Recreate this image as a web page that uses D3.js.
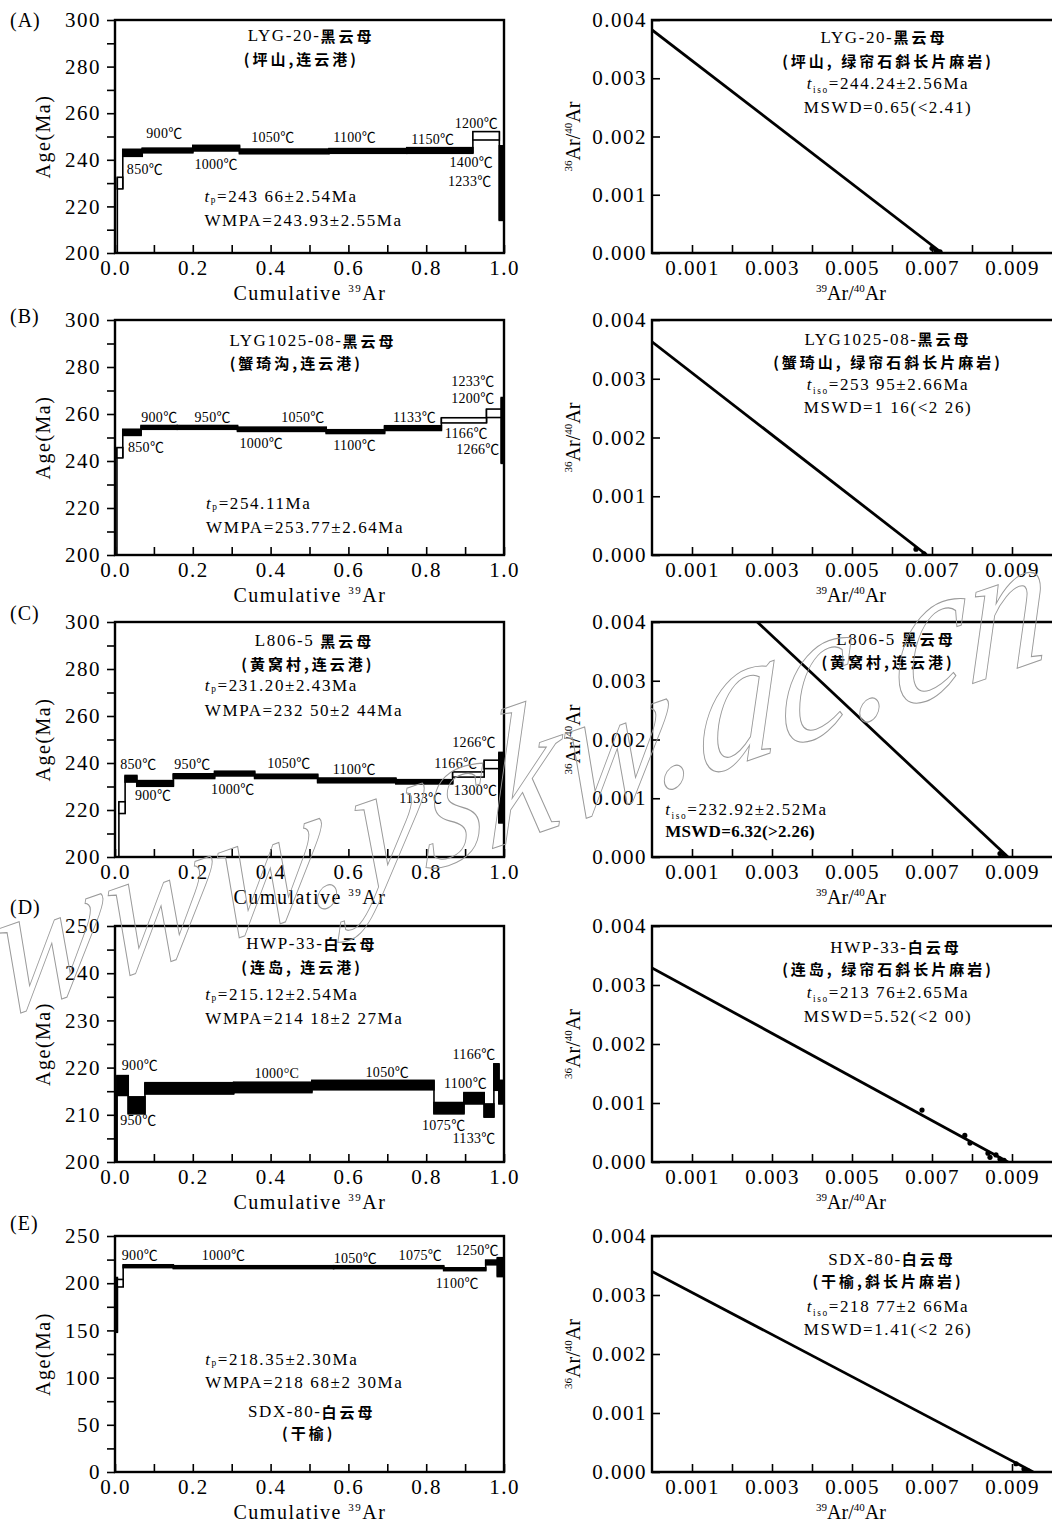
<!DOCTYPE html>
<html lang="zh">
<head>
<meta charset="UTF-8">
<title>Ar-Ar age spectra and isochrons</title>
<script src="https://cdn.jsdelivr.net/npm/d3@7"></script>
<style>
  body { margin: 0; background: #fff; }
  svg { display: block; }
</style>
</head>
<body>
<svg id="chart" width="1052" height="1528"></svg>
<script>
// ---------- data ----------
const panelIds = ["A", "B", "C", "D", "E"];

// age spectra: [cumulative 39Ar from, to, age (Ma), error (Ma), used in plateau]
const stepsA = [
  [0, 0.006, 190, 6, false], [0.006, 0.02, 230, 2.5, false], [0.02, 0.07, 243, 1.5, true],
  [0.07, 0.2, 244, 1.0, true], [0.2, 0.32, 245, 1.2, true], [0.32, 0.55, 243.6, 1.0, true],
  [0.55, 0.75, 243.8, 1.0, true], [0.75, 0.92, 244, 1.2, true], [0.92, 0.988, 250.3, 1.8, false],
  [0.988, 1.0, 230, 16, true]
];
const stepsB = [
  [0, 0.005, 190, 5, false], [0.005, 0.02, 243.5, 2.2, false], [0.02, 0.067, 252.2, 1.3, true],
  [0.067, 0.16, 254.3, 0.8, true], [0.16, 0.315, 254.3, 0.8, true], [0.315, 0.543, 253.5, 0.9, true],
  [0.543, 0.693, 252.5, 0.8, true], [0.693, 0.839, 254, 1.0, true], [0.839, 0.955, 257.3, 1.1, false],
  [0.955, 0.993, 260.3, 1.8, false], [0.993, 1.0, 253, 14, true]
];
const stepsC = [
  [0, 0.01, 190, 5, false], [0.01, 0.026, 221, 2.5, false], [0.026, 0.056, 233.3, 1.4, true],
  [0.056, 0.15, 231.3, 1.2, true], [0.15, 0.256, 234.4, 1.0, true], [0.256, 0.359, 235.5, 1.0, true],
  [0.359, 0.521, 234.3, 0.9, true], [0.521, 0.722, 232.6, 1.0, true], [0.722, 0.868, 232.0, 0.9, true],
  [0.868, 0.949, 235.1, 1.1, false], [0.949, 0.987, 239.4, 1.8, false], [0.987, 1.0, 229.5, 15, true]
];
const stepsD = [
  [0, 0.005, 207.5, 7.5, true], [0.005, 0.034, 216.2, 2.1, true], [0.034, 0.077, 212, 1.8, true],
  [0.077, 0.305, 215.6, 1.2, true], [0.305, 0.506, 215.8, 1.1, true], [0.506, 0.82, 216.3, 1.0, true],
  [0.82, 0.897, 211.4, 1.2, true], [0.897, 0.949, 213.5, 1.2, true], [0.949, 0.974, 210.9, 1.4, true],
  [0.974, 0.987, 218, 2.8, true], [0.987, 1.0, 214.8, 2.5, true]
];
const stepsE = [
  [0, 0.006, 177, 29, true], [0.006, 0.021, 200, 4, false], [0.021, 0.15, 218, 1.5, true],
  [0.15, 0.562, 217, 1.5, true], [0.562, 0.845, 217, 1.5, true], [0.845, 0.953, 214.8, 1.5, true],
  [0.953, 0.983, 222, 2.5, true], [0.983, 1.0, 217, 10, true]
];

// heating-step labels: [text, cumulative 39Ar, age]
const tempsA = [["900℃", 0.127, 251.4], ["850℃", 0.077, 235.7], ["1000℃", 0.26, 237.9], ["1050℃", 0.406, 249.6],
  ["1100℃", 0.616, 249.6], ["1150℃", 0.817, 248.6], ["1200℃", 0.929, 255.7], ["1400℃", 0.916, 239], ["1233℃", 0.912, 230.7]];
const tempsB = [["900℃", 0.114, 258.3], ["950℃", 0.251, 258.3], ["1050℃", 0.483, 258.3], ["1133℃", 0.77, 258.6],
  ["1233℃", 0.92, 273.9], ["1200℃", 0.92, 266.7], ["850℃", 0.08, 245.7], ["1000℃", 0.376, 247.4],
  ["1100℃", 0.616, 246.7], ["1166℃", 0.903, 251.9], ["1266℃", 0.933, 245]];
const tempsC = [["850℃", 0.06, 239.3], ["950℃", 0.199, 239.3], ["1050℃", 0.447, 239.7], ["1100℃", 0.615, 237.2],
  ["1266℃", 0.923, 248.9], ["1166℃", 0.876, 240], ["900℃", 0.098, 226.2], ["1000℃", 0.303, 228.7],
  ["1133℃", 0.786, 224.8], ["1300℃", 0.927, 228.4]];
const tempsD = [["900℃", 0.064, 220.4], ["1000°C", 0.416, 218.8], ["1050℃", 0.7, 218.9], ["1166℃", 0.923, 222.7],
  ["1100℃", 0.901, 216.7], ["950℃", 0.06, 208.7], ["1075℃", 0.845, 207.7], ["1133℃", 0.923, 204.9]];
const tempsE = [["900℃", 0.064, 228.9], ["1000℃", 0.279, 228.9], ["1050℃", 0.618, 226], ["1075℃", 0.785, 229.6],
  ["1250℃", 0.931, 234.2], ["1100℃", 0.88, 199.6]];

// spectrum notes: [text, cumulative 39Ar, age, anchor]
const notesA = [["LYG-20-黑云母", 0.504, 293.6, "middle"], ["(坪山,连云港)", 0.479, 283.6, "middle"],
  ["t_p=243 66±2.54Ma", 0.23, 224.3, "start"], ["WMPA=243.93±2.55Ma", 0.23, 214.3, "start"]];
const notesB = [["LYG1025-08-黑云母", 0.509, 291.7, "middle"], ["(蟹琦沟,连云港)", 0.466, 282.1, "middle"],
  ["t_p=254.11Ma", 0.234, 222.1, "start"], ["WMPA=253.77±2.64Ma", 0.234, 212.1, "start"]];
const notesC = [["L806-5 黑云母", 0.513, 292.2, "middle"], ["(黄窝村,连云港)", 0.496, 282.6, "middle"],
  ["t_p=231.20±2.43Ma", 0.231, 273, "start"], ["WMPA=232 50±2 44Ma", 0.231, 262.4, "start"]];
const notesD = [["HWP-33-白云母", 0.506, 246.3, "middle"], ["(连岛, 连云港)", 0.481, 241.5, "middle"],
  ["t_p=215.12±2.54Ma", 0.232, 235.6, "start"], ["WMPA=214 18±2 27Ma", 0.232, 230.6, "start"]];
const notesE = [["t_p=218.35±2.30Ma", 0.232, 119.7, "start"], ["WMPA=218 68±2 30Ma", 0.232, 95, "start"],
  ["SDX-80-白云母", 0.506, 65.1, "middle"], ["(干榆)", 0.498, 42.3, "middle"]];

// age axis labels
const ageTicksA = [200, 220, 240, 260, 280, 300];
const ageTicksB = [200, 220, 240, 260, 280, 300];
const ageTicksC = [200, 220, 240, 260, 280, 300];
const ageTicksD = [200, 210, 220, 230, 240, 250];
const ageTicksE = [0, 50, 100, 150, 200, 250];
const cumTicks = [0, 0.2, 0.4, 0.6, 0.8, 1.0];

// isochrons: [36Ar/40Ar intercept, 39Ar/40Ar intercept]
const isoA = [0.00383, 0.00725];
const isoB = [0.00363, 0.00687];
const isoC = [0.00568, 0.0089];
const isoD = [0.00329, 0.0089];
const isoE = [0.0034, 0.00953];
const isoPtsA = [[0.0070, 0.00008], [0.0071, 0.00004], [0.0072, 0.00002]];
const isoPtsB = [[0.0066, 0.0001], [0.0068, 0.00002]];
const isoPtsC = [[0.0087, 0.00006], [0.0088, 0.00003]];
const isoPtsD = [[0.00675, 0.00088], [0.00782, 0.00045], [0.00795, 0.00032], [0.0084, 0.00015],
  [0.00845, 0.00008], [0.0086, 0.00012], [0.0087, 0.00005], [0.0088, 0.00003]];
const isoPtsE = [[0.0091, 0.00014], [0.0093, 0.00005], [0.0094, 0.00002]];
const isoXTicks = [0.001, 0.003, 0.005, 0.007, 0.009];
const isoYTicks = [0, 0.001, 0.002, 0.003, 0.004];

// isochron notes: [text, 39Ar/40Ar, 36Ar/40Ar (baseline), anchor]
const isoNotesA = [["LYG-20-黑云母", 0.0058, 0.00361, "middle"], ["(坪山, 绿帘石斜长片麻岩)", 0.0059, 0.0032, "middle"],
  ["t_iso=244.24±2.56Ma", 0.0059, 0.00281, "middle"], ["MSWD=0.65(<2.41)", 0.0059, 0.00241, "middle"]];
const isoNotesB = [["LYG1025-08-黑云母", 0.0059, 0.00357, "middle"], ["(蟹琦山, 绿帘石斜长片麻岩)", 0.0059, 0.00318, "middle"],
  ["t_iso=253 95±2.66Ma", 0.0059, 0.00281, "middle"], ["MSWD=1 16(<2 26)", 0.0059, 0.00242, "middle"]];
const isoNotesC = [["L806-5 黑云母", 0.0061, 0.00361, "middle"], ["(黄窝村,连云港)", 0.0059, 0.00322, "middle"],
  ["t_iso=232.92±2.52Ma", 0.00033, 0.00071, "start"], ["MSWD=6.32(>2.26)", 0.00033, 0.00034, "start"]];
const isoNotesD = [["HWP-33-白云母", 0.0061, 0.00354, "middle"], ["(连岛, 绿帘石斜长片麻岩)", 0.0059, 0.00317, "middle"],
  ["t_iso=213 76±2.65Ma", 0.0059, 0.00278, "middle"], ["MSWD=5.52(<2 00)", 0.0059, 0.00237, "middle"]];
const isoNotesE = [["SDX-80-白云母", 0.006, 0.00351, "middle"], ["(干榆,斜长片麻岩)", 0.0059, 0.00314, "middle"],
  ["t_iso=218 77±2 66Ma", 0.0059, 0.00271, "middle"], ["MSWD=1.41(<2 26)", 0.0059, 0.00232, "middle"]];

// ---------- layout ----------
const W = 1052, H = 1528;
const serif = "'Liberation Serif','Times New Roman','Noto Sans CJK SC',serif";
const cjk = "'Noto Sans CJK SC','Noto Sans',sans-serif";
const rowTop = [20, 320, 622, 926, 1236];
const rowBottom = [253, 555, 857, 1162, 1472];
const letterY = [27, 323, 620, 914, 1230];
const leftX = [115, 504];
const rightX = [652, 1052];

const panels = [
  { steps: stepsA, temps: tempsA, notes: notesA, ages: ageTicksA, iso: isoA, pts: isoPtsA, isoNotes: isoNotesA },
  { steps: stepsB, temps: tempsB, notes: notesB, ages: ageTicksB, iso: isoB, pts: isoPtsB, isoNotes: isoNotesB },
  { steps: stepsC, temps: tempsC, notes: notesC, ages: ageTicksC, iso: isoC, pts: isoPtsC, isoNotes: isoNotesC },
  { steps: stepsD, temps: tempsD, notes: notesD, ages: ageTicksD, iso: isoD, pts: isoPtsD, isoNotes: isoNotesD },
  { steps: stepsE, temps: tempsE, notes: notesE, ages: ageTicksE, iso: isoE, pts: isoPtsE, isoNotes: isoNotesE }
];

const svg = d3.select("#chart");
svg.append("rect").attr("width", W).attr("height", H).attr("fill", "#fff");
const defs = svg.append("defs");

// text with t_p / t_iso prefix and bold CJK runs
function richText(sel, str) {
  let rest = str, lift = 0;
  const m = str.match(/^t_(p|iso)(.*)$/);
  if (m) {
    sel.append("tspan").attr("font-style", "italic").text("t");
    sel.append("tspan").attr("font-size", "0.55em").attr("dy", 4).text(m[1]);
    rest = m[2];
    lift = -4;
  }
  const allCjk = /^\(.*[\u4e00-\u9fff]/.test(rest);
  const parts = allCjk ? [rest] : rest.split(/([\u4e00-\u9fff]+)/).filter(s => s.length);
  parts.forEach((s, i) => {
    const t = sel.append("tspan").text(s);
    if (i === 0 && lift) t.attr("dy", lift);
    if (allCjk || /[\u4e00-\u9fff]/.test(s)) {
      t.attr("font-family", cjk).attr("font-weight", 700).attr("letter-spacing", 3).attr("font-size", 15);
    }
  });
}

// text with superscript parts: [[text, isSup], ...]
function supText(sel, parts) {
  let up = false;
  parts.forEach(([s, sup]) => {
    const t = sel.append("tspan").text(s);
    if (sup && !up) { t.attr("dy", -8).attr("font-size", 11); up = true; }
    else if (sup) { t.attr("font-size", 11); }
    else if (up) { t.attr("dy", 8); up = false; }
  });
}

function styleAxis(g) {
  g.select(".domain").remove();
  g.selectAll(".tick line").attr("stroke", "#000").attr("stroke-width", 1.6);
  g.selectAll(".tick text").attr("fill", "#000").attr("font-family", serif)
    .attr("font-size", 21).attr("letter-spacing", 1.5);
}

panels.forEach((p, i) => {
  const top = rowTop[i], bottom = rowBottom[i];

  // ----- age spectrum -----
  const x = d3.scaleLinear().domain([0, 1]).range(leftX);
  const y = d3.scaleLinear().domain(d3.extent(p.ages)).range([bottom, top]);
  const gl = svg.append("g");
  defs.append("clipPath").attr("id", "clipL" + i).append("rect")
    .attr("x", leftX[0]).attr("y", top).attr("width", leftX[1] - leftX[0]).attr("height", bottom - top);

  const plot = gl.append("g").attr("clip-path", `url(#clipL${i})`);
  const st = p.steps.map(d => ({ x0: d[0], x1: d[1], lo: d[2] - d[3], hi: d[2] + d[3], inc: d[4] }));
  d3.pairs(st).forEach(([a, b]) => {
    plot.append("line")
      .attr("x1", x(a.x1)).attr("x2", x(a.x1))
      .attr("y1", y(Math.min(a.lo, b.lo))).attr("y2", y(Math.max(a.hi, b.hi)))
      .attr("stroke", "#000").attr("stroke-width", 1.6);
  });
  plot.selectAll("rect.step").data(st).join("rect")
    .attr("class", "step")
    .attr("x", d => x(d.x0)).attr("width", d => x(d.x1) - x(d.x0))
    .attr("y", d => y(d.hi)).attr("height", d => y(d.lo) - y(d.hi))
    .attr("fill", d => d.inc ? "#000" : "#fff")
    .attr("stroke", "#000").attr("stroke-width", 1.6);

  const step = p.ages[1] - p.ages[0];
  const yAll = d3.range(p.ages[0], p.ages[p.ages.length - 1] + step / 4, step / 2);
  gl.append("g").attr("transform", `translate(${leftX[0]},0)`)
    .call(d3.axisLeft(y).tickValues(yAll).tickSize(8).tickPadding(6)
      .tickFormat(v => p.ages.includes(v) ? v : ""))
    .call(styleAxis);
  gl.append("g").attr("transform", `translate(0,${bottom})`)
    .call(d3.axisBottom(x).tickValues(d3.range(0, 1.0001, 0.1)).tickSize(-8).tickPadding(7)
      .tickFormat(v => cumTicks.some(c => Math.abs(c - v) < 1e-6) ? d3.format(".1f")(v) : ""))
    .call(styleAxis);

  gl.append("rect").attr("x", leftX[0]).attr("y", top)
    .attr("width", leftX[1] - leftX[0]).attr("height", bottom - top)
    .attr("fill", "none").attr("stroke", "#000").attr("stroke-width", 2.4);

  gl.selectAll("text.temp").data(p.temps).join("text")
    .attr("class", "temp")
    .attr("x", d => x(d[1])).attr("y", d => y(d[2]))
    .attr("text-anchor", "middle").attr("dominant-baseline", "central")
    .attr("font-family", serif).attr("font-size", 14).attr("letter-spacing", 0.3)
    .text(d => d[0]);

  p.notes.forEach(n => {
    const t = gl.append("text").attr("x", x(n[1])).attr("y", y(n[2]))
      .attr("text-anchor", n[3]).attr("dominant-baseline", "central")
      .attr("font-family", serif).attr("font-size", 17).attr("letter-spacing", 1.6);
    richText(t, n[0]);
  });

  svg.append("text").attr("x", 10).attr("y", letterY[i])
    .attr("font-family", serif).attr("font-size", 20).attr("letter-spacing", 1)
    .text(`(${panelIds[i]})`);

  svg.append("text")
    .attr("transform", `translate(50,${(top + bottom) / 2}) rotate(-90)`)
    .attr("text-anchor", "middle")
    .attr("font-family", serif).attr("font-size", 20).attr("letter-spacing", 1.5)
    .text("Age(Ma)");

  const xl = svg.append("text").attr("x", 310).attr("y", bottom + 47)
    .attr("text-anchor", "middle").attr("font-family", serif).attr("font-size", 20).attr("letter-spacing", 1.5);
  supText(xl, [["Cumulative ", false], ["39", true], ["Ar", false]]);

  // ----- isochron -----
  const xi = d3.scaleLinear().domain([0, 0.01]).range(rightX);
  const yi = d3.scaleLinear().domain([0, 0.004]).range([bottom, top]);
  const gr = svg.append("g");
  defs.append("clipPath").attr("id", "clipR" + i).append("rect")
    .attr("x", rightX[0]).attr("y", top).attr("width", rightX[1] - rightX[0] + 20).attr("height", bottom - top);
  const plotR = gr.append("g").attr("clip-path", `url(#clipR${i})`);

  plotR.append("line")
    .attr("x1", xi(0)).attr("y1", yi(p.iso[0]))
    .attr("x2", xi(p.iso[1])).attr("y2", yi(0))
    .attr("stroke", "#000").attr("stroke-width", 2.8);
  plotR.selectAll("circle").data(p.pts).join("circle")
    .attr("cx", d => xi(d[0])).attr("cy", d => yi(d[1])).attr("r", 2.6).attr("fill", "#000");

  gr.append("g").attr("transform", `translate(${rightX[0]},0)`)
    .call(d3.axisLeft(yi).tickValues(isoYTicks).tickSize(-8).tickPadding(5).tickFormat(d3.format(".3f")))
    .call(styleAxis);
  gr.append("g").attr("transform", `translate(0,${bottom})`)
    .call(d3.axisBottom(xi).tickValues(d3.range(0.001, 0.00951, 0.001)).tickSize(-8).tickPadding(7)
      .tickFormat(v => isoXTicks.some(c => Math.abs(c - v) < 1e-9) ? d3.format(".3f")(v) : ""))
    .call(styleAxis);

  gr.append("path")
    .attr("d", `M${W + 10},${top}H${rightX[0]}V${bottom}H${W + 10}`)
    .attr("fill", "none").attr("stroke", "#000").attr("stroke-width", 2.4);

  p.isoNotes.forEach(n => {
    const t = gr.append("text").attr("x", xi(n[1])).attr("y", yi(n[2]))
      .attr("text-anchor", n[3])
      .attr("font-family", serif).attr("font-size", 17).attr("letter-spacing", 1.6);
    if (n[0].startsWith("MSWD=6")) t.attr("font-weight", 700).attr("letter-spacing", 0.3);
    richText(t, n[0]);
  });

  const yl = svg.append("text")
    .attr("transform", `translate(580,${(top + bottom) / 2}) rotate(-90)`)
    .attr("text-anchor", "middle").attr("font-family", serif).attr("font-size", 20);
  supText(yl, [["36", true], ["Ar/", false], ["40", true], ["Ar", false]]);

  const xr = svg.append("text").attr("x", 851).attr("y", bottom + 47)
    .attr("text-anchor", "middle").attr("font-family", serif).attr("font-size", 20);
  supText(xr, [["39", true], ["Ar/", false], ["40", true], ["Ar", false]]);
});

// watermark of the source journal: upright letters on a rising baseline
svg.append("text")
  .attr("transform", "translate(-5,1020) skewY(-19) scale(0.92,1.1)")
  .attr("font-family", serif).attr("font-style", "italic").attr("font-size", 178)
  .attr("fill", "none").attr("stroke", "#9a9a9a").attr("stroke-width", 1)
  .text("www.yskw.ac.cn");
</script>
</body>
</html>
